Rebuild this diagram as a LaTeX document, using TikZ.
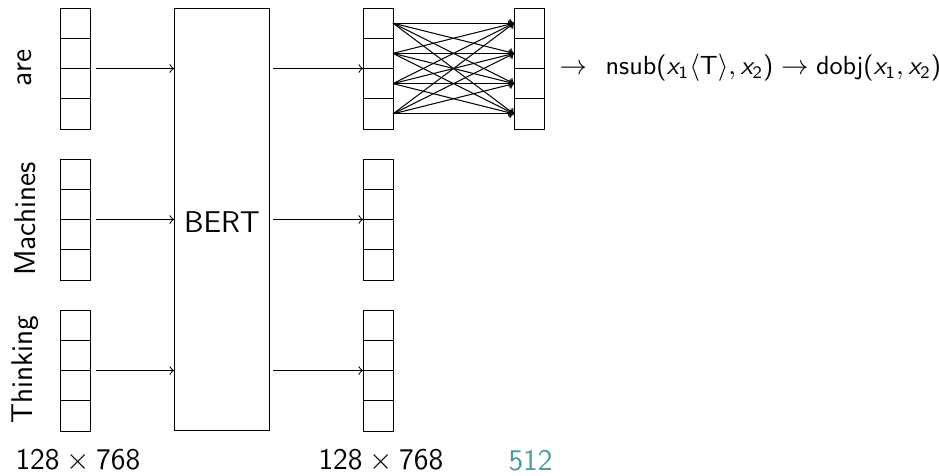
\documentclass[tikz,border=0pt]{standalone}
\usetikzlibrary{arrows.meta}
\definecolor{tealnum}{RGB}{75,155,155}
\newcommand\vx{\mbox{\slshape x}}
\newcommand\tx[1]{\mbox{#1}}
\begin{document}
\begin{tikzpicture}[x=0.4pt,y=-0.4pt,
  font=\sffamily\fontsize{12}{14}\selectfont,
  cell/.style={draw,minimum width=12pt,minimum height=12.1pt,inner sep=0pt,outer sep=0pt},
  arr/.style={->,>=to},
  word/.style={rotate=90,anchor=center}]
\useasboundingbox (0,0) rectangle (939,475);
\foreach \nm/\cx/\ty in {a/75/8, m/75/159, t/75/310, A/378/8, M/378/159, T/378/310, R/529/8}{
  \foreach \i in {1,2,3,4}{
    \node[cell] (\nm\i) at (\cx,{\ty+30.25*\i-15.125}) {};
  }
  \coordinate (\nm c) at (\cx,{\ty+60.5});
}
\node[draw,minimum width=38pt,minimum height=169pt,inner sep=0pt] (bert) at (222,219.5) {};
\node at (222,222) {BERT};
\node[word] (wa) at (25,68) {are};
\node[word] (wm) at (25,219) {Machines};
\node[word] (wt) at (25,370) {Thinking};
\foreach \nm in {a,m,t}{
  \draw[arr] ([xshift=2.4pt]\nm c -| \nm1.east) -- (\nm c -| bert.west);
}
\foreach \nm in {A,M,T}{
  \draw[arr] ([xshift=1.2pt]\nm c -| bert.east) -- (\nm c -| \nm1.west);
}
\foreach \i in {1,2,3,4}{
  \foreach \j in {1,2,3,4}{
    \draw[arr] (A\i.east) -- (R\j.west);
  }
}
\node[anchor=west,inner sep=0pt,font=\sffamily\fontsize{10.5}{12}\selectfont] (out) at (559,68)
  {$\to$\hspace{7.5pt}$\tx{nsub}\tx{(}\vx_{\mathsf{1}}\langle\tx{T}\rangle,\vx_{\mathsf{2}}\tx{)}\to\tx{dobj}\tx{(}\vx_{\mathsf{1}},\vx_{\mathsf{2}}\tx{)}$};
\node[anchor=west,inner sep=0pt] (l1) at (15,461) {$\mathsf{128}\times\mathsf{768}$};
\node[anchor=west,inner sep=0pt] (l2) at (318,461) {$\mathsf{128}\times\mathsf{768}$};
\node[anchor=west,inner sep=0pt,text=tealnum] (l3) at (508,461) {$\mathsf{512}$};
\end{tikzpicture}
\end{document}
